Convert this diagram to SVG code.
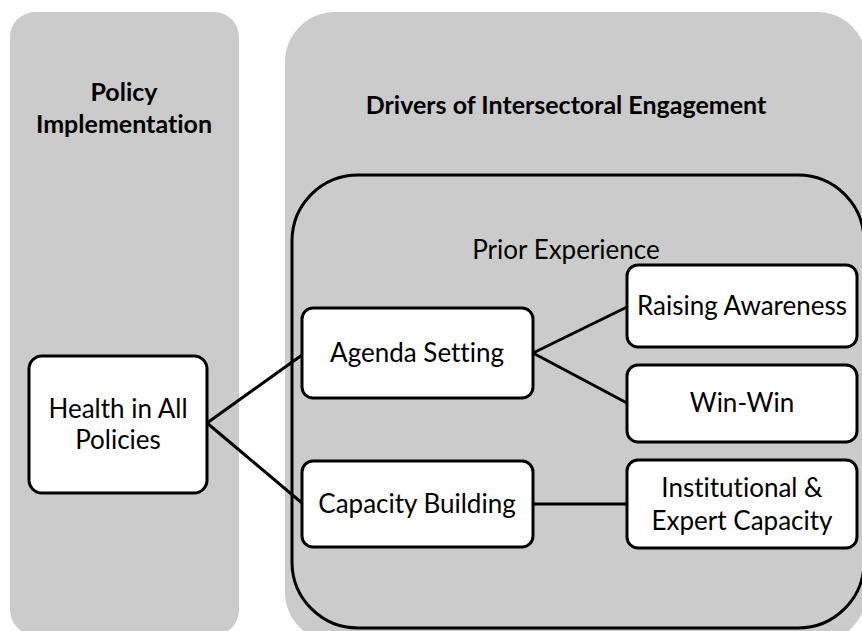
<svg xmlns="http://www.w3.org/2000/svg" width="862" height="631" viewBox="0 0 862 631">
<style>
.panel{fill:#cbcbcb;stroke:none}
.inner{fill:#cbcbcb;stroke:#000;stroke-width:3}
.node{fill:#fff;stroke:#000;stroke-width:3}
.t{font-family:Lato,"Liberation Sans",sans-serif;font-size:26px;fill:#000;text-anchor:middle;font-variant-ligatures:none}
.h{font-family:Lato,"Liberation Sans",sans-serif;font-size:25px;font-weight:bold;fill:#000;text-anchor:middle;font-variant-ligatures:none}
.c{stroke:#000;stroke-width:3;fill:none}
</style>
<rect width="862" height="631" fill="#fff"/>
<g id="panel-policy">
<rect class="panel" x="10" y="12" width="229" height="623" rx="25"/>
<text class="h" x="124" y="101">Policy</text>
<text class="h" x="124" y="133">Implementation</text>
</g>
<g id="panel-drivers">
<rect class="panel" x="285" y="12" width="582" height="630" rx="50"/>
<text class="h" x="566" y="114">Drivers of Intersectoral Engagement</text>
</g>
<g id="prior-experience">
<rect class="inner" x="292" y="175" width="572" height="453" rx="66"/>
<text class="t" x="566" y="259">Prior Experience</text>
</g>
<g id="connectors">
<line class="c" x1="207" y1="423" x2="302" y2="355"/>
<line class="c" x1="207" y1="423" x2="302" y2="503"/>
<line class="c" x1="533" y1="353" x2="627" y2="307"/>
<line class="c" x1="533" y1="353" x2="627" y2="403"/>
<line class="c" x1="533" y1="504" x2="627" y2="504"/>
</g>
<g id="health-in-all-policies">
<rect class="node" x="29" y="356" width="178" height="137" rx="13"/>
<text class="t" x="118" y="418">Health in All</text>
<text class="t" x="118" y="449">Policies</text>
</g>
<g id="agenda-setting">
<rect class="node" x="302" y="308" width="231" height="90" rx="11"/>
<text class="t" x="417" y="362">Agenda Setting</text>
</g>
<g id="capacity-building">
<rect class="node" x="302" y="461" width="231" height="86" rx="11"/>
<text class="t" x="417" y="513">Capacity Building</text>
</g>
<g id="raising-awareness">
<rect class="node" x="627" y="265" width="230" height="82" rx="11"/>
<text class="t" x="742" y="315">Raising Awareness</text>
</g>
<g id="win-win">
<rect class="node" x="627" y="365" width="230" height="77" rx="11"/>
<text class="t" x="742" y="412">Win-Win</text>
</g>
<g id="institutional-expert-capacity">
<rect class="node" x="627" y="460" width="230" height="88" rx="11"/>
<text class="t" x="742" y="497">Institutional &amp;</text>
<text class="t" x="742" y="530">Expert Capacity</text>
</g>
</svg>
